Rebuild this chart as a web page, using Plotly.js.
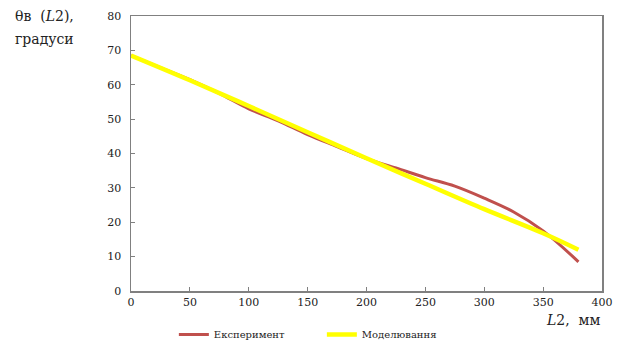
<!DOCTYPE html>
<html><head><meta charset="utf-8">
<script src="https://cdn.plot.ly/plotly-3.0.1.min.js"></script>
<style>body{margin:0;background:#fff}#c{width:628px;height:344px}</style>
</head><body><div id="c"></div>
<script>
const expX = [0, 25, 50, 75, 100, 125, 150, 175, 200, 225, 250, 275, 300, 325, 350, 380];
const expY = [68.5, 65, 61.5, 57.5, 53, 49.5, 45.5, 42, 38.5, 35.8, 33, 30.5, 27, 23, 17.5, 8.5];
const modX = [0, 50, 100, 150, 200, 250, 300, 350, 380];
const modY = [68.5, 61.3, 53.8, 46.2, 38.6, 31.2, 23.8, 16.8, 12];
const xTicks = [0, 50, 100, 150, 200, 250, 300, 350, 400];
const yTicks = [0, 10, 20, 30, 40, 50, 60, 70, 80];
const names = ["Експеримент", "Моделювання"];

const FAM = "DejaVu Serif";
const font = {family: FAM, size: 11, color: "#222"};
const traces = [
  {x: expX, y: expY, name: names[0], mode: "lines", line: {color: "#C0504D", width: 3, shape: "spline"}},
  {x: modX, y: modY, name: names[1], mode: "lines", line: {color: "#FFFF00", width: 4.5, shape: "spline"}}
];
const ax = {showgrid: false, zeroline: false, showline: true, linecolor: "#808080", linewidth: 1.5, mirror: true,
  ticks: "inside", ticklen: 4, tickcolor: "#808080", tickfont: font};
const layout = {
  width: 628, height: 344, paper_bgcolor: "#fff", plot_bgcolor: "#fff", font: font,
  margin: {l: 131, r: 26, t: 16, b: 53, autoexpand: false},
  xaxis: Object.assign({}, ax, {range: [0, 400], tickvals: xTicks, ticktext: xTicks.map(String)}),
  yaxis: Object.assign({}, ax, {range: [0, 80], tickvals: yTicks, ticktext: yTicks.map(String), ticklabelstandoff: 6}),
  showlegend: true,
  legend: {orientation: "h", x: 0.091, y: -0.105, xanchor: "left", yanchor: "top", font: {family: FAM, size: 10, color: "#222"},
    itemwidth: 30, tracegroupgap: 0, entrywidth: 103, bgcolor: "rgba(0,0,0,0)"},
  annotations: [
    {xref: "paper", yref: "paper", x: -0.25, y: 1.0, xanchor: "left", yanchor: "middle", showarrow: false, align: "left",
     text: "θв  (<i>L</i>2),", font: {family: FAM, size: 14, color: "#222"}},
    {xref: "paper", yref: "paper", x: -0.25, y: 0.915, xanchor: "left", yanchor: "middle", showarrow: false, align: "left",
     text: "градуси", font: {family: FAM, size: 14, color: "#222"}},
    {xref: "paper", yref: "paper", x: 1.0, y: -0.105, xanchor: "right", yanchor: "middle", showarrow: false,
     text: "<i>L</i>2,  мм", font: {family: FAM, size: 14, color: "#222"}}
  ]
};
Plotly.newPlot("c", traces, layout, {displayModeBar: false, staticPlot: true});
</script></body></html>
